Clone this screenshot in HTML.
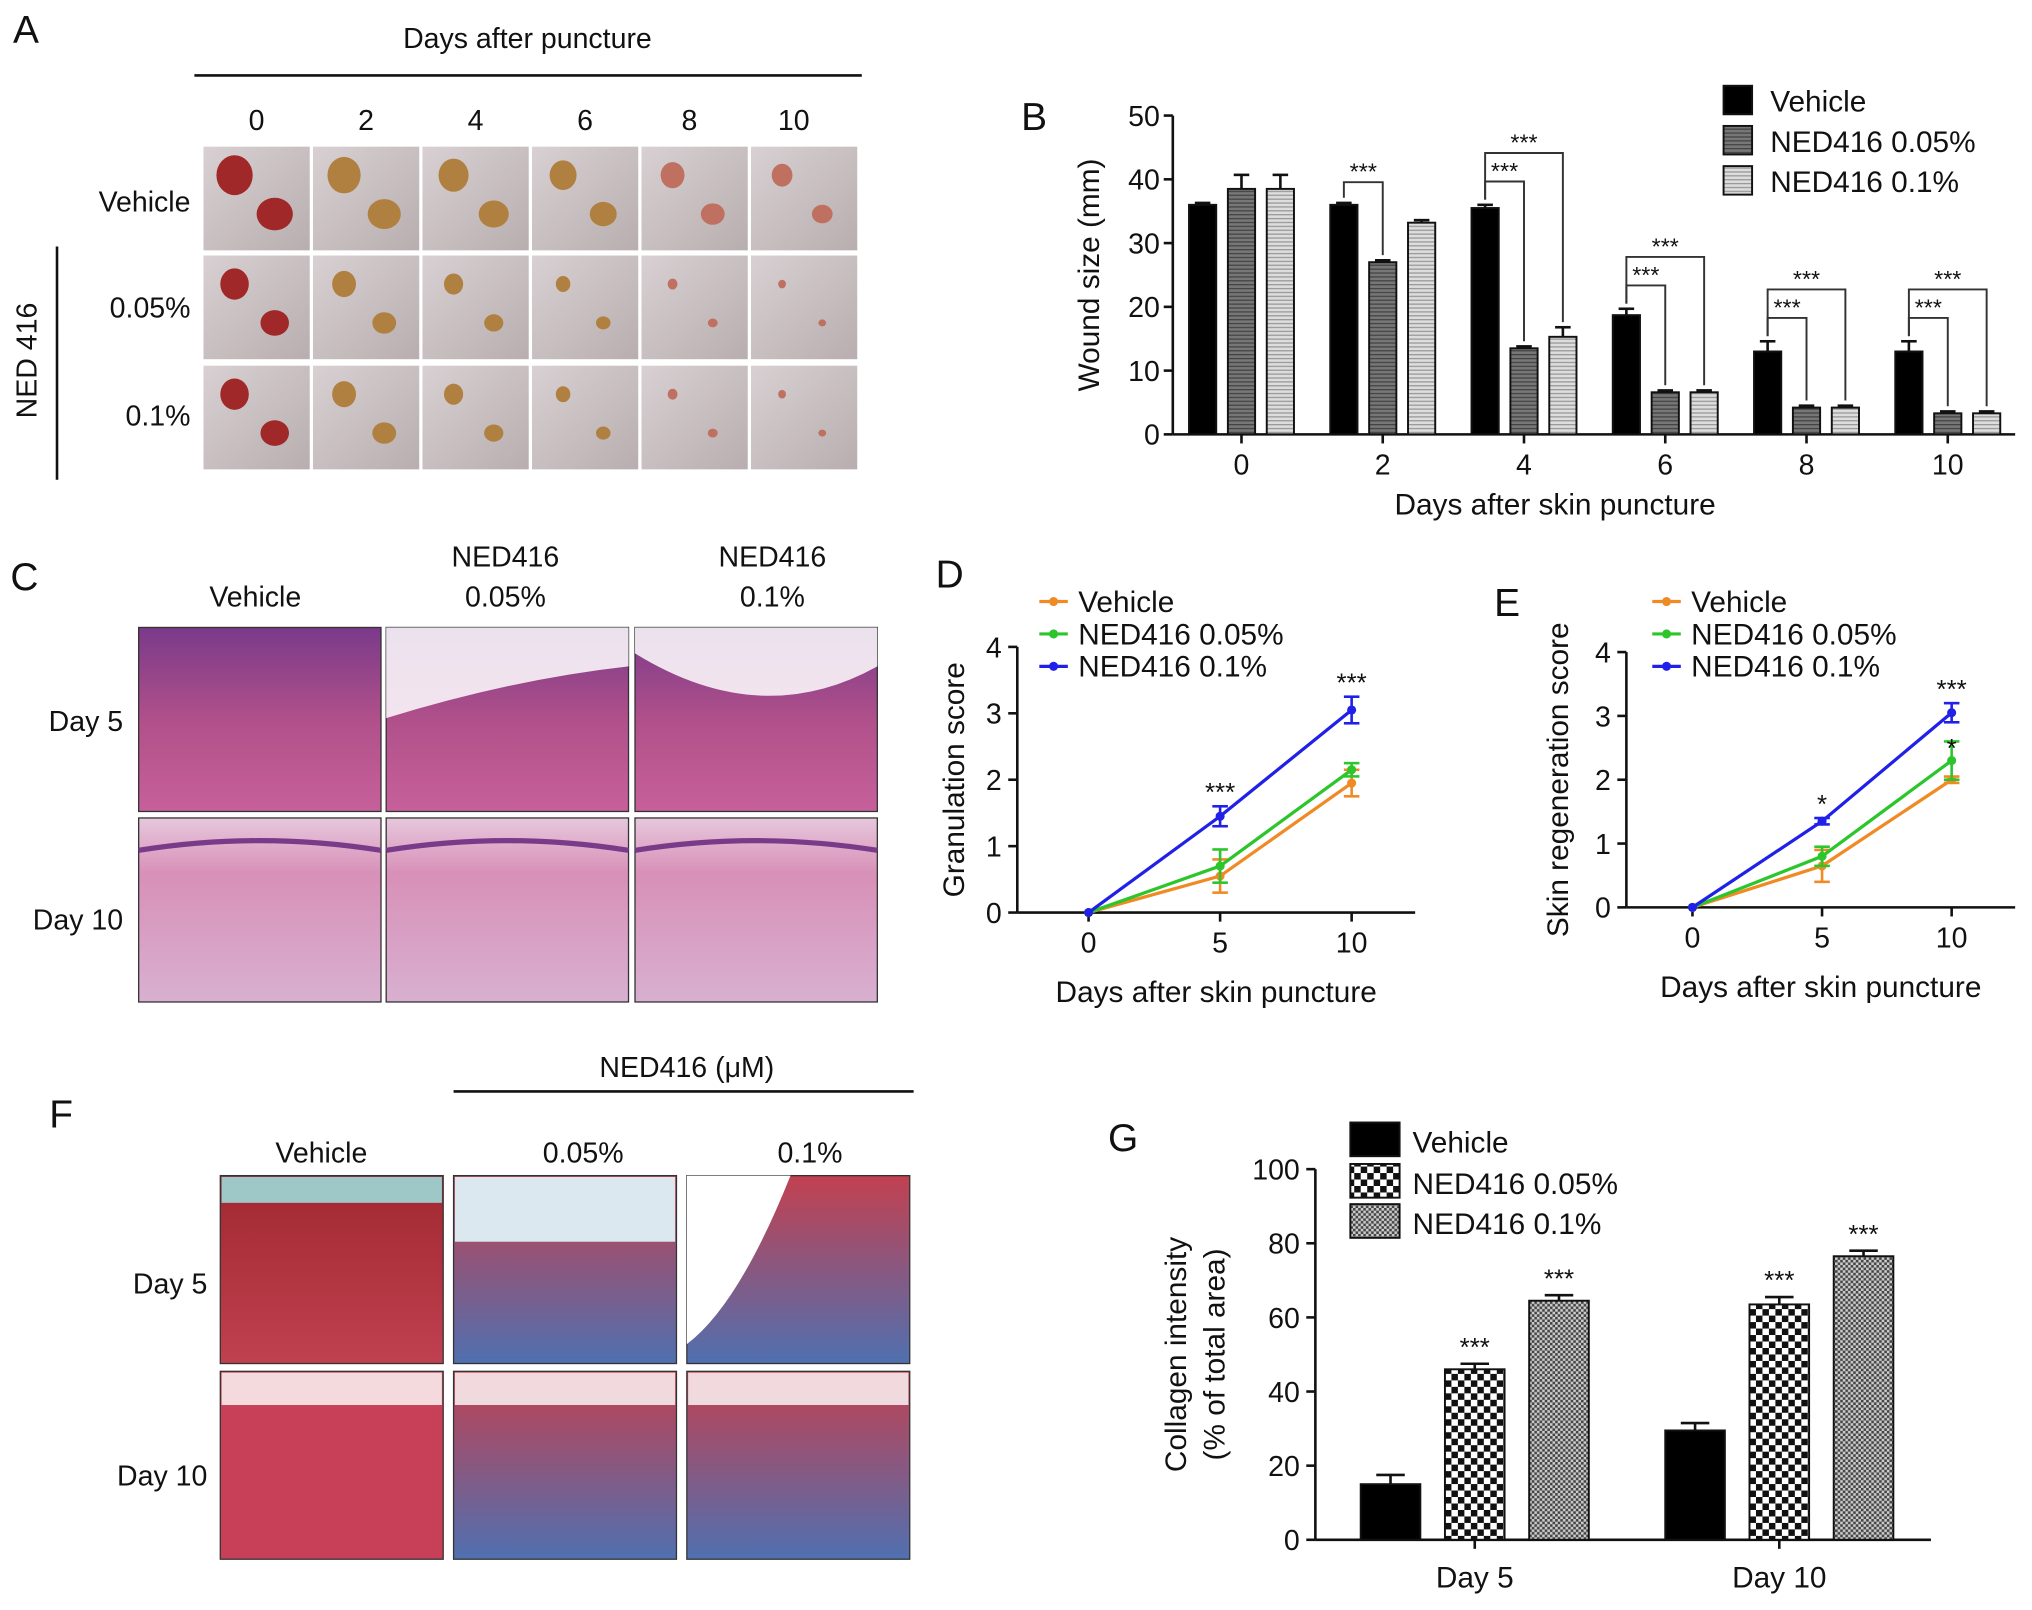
<!DOCTYPE html>
<html><head><meta charset="utf-8"><style>html,body{margin:0;padding:0;background:#fff}svg{display:block}text{font-family:"Liberation Sans",sans-serif;fill:#111}</style></head>
<body>
<svg id="fig" width="2032" height="1610" viewBox="0 0 1568 1242" xmlns="http://www.w3.org/2000/svg">
<defs>
<pattern id="pDark" width="4" height="3" patternUnits="userSpaceOnUse"><rect width="4" height="3" fill="#777"/><rect width="4" height="1" fill="#444"/></pattern>
<pattern id="pLight" width="4" height="3" patternUnits="userSpaceOnUse"><rect width="4" height="3" fill="#ddd"/><rect width="4" height="1" fill="#999"/></pattern>
<pattern id="pCheck" width="10" height="10" patternUnits="userSpaceOnUse"><rect width="10" height="10" fill="#fff"/><rect width="5" height="5" fill="#111"/><rect x="5" y="5" width="5" height="5" fill="#111"/></pattern>
<pattern id="pFine" width="4" height="4" patternUnits="userSpaceOnUse"><rect width="4" height="4" fill="#ccc"/><rect width="2" height="2" fill="#444"/><rect x="2" y="2" width="2" height="2" fill="#444"/></pattern>
<linearGradient id="gSkin" x1="0" y1="0" x2="1" y2="1"><stop offset="0" stop-color="#d8d0d2"/><stop offset="1" stop-color="#b8aeb0"/></linearGradient>
<linearGradient id="gHE" x1="0" y1="0" x2="0" y2="1"><stop offset="0" stop-color="#7a3a8a"/><stop offset="0.5" stop-color="#b0508a"/><stop offset="1" stop-color="#c7609a"/></linearGradient>
<linearGradient id="gHE2" x1="0" y1="0" x2="0" y2="1"><stop offset="0" stop-color="#e6c8dc"/><stop offset="0.3" stop-color="#d890b8"/><stop offset="1" stop-color="#d8b0d0"/></linearGradient>
<linearGradient id="gTri" x1="0" y1="0" x2="0" y2="1"><stop offset="0" stop-color="#c24050"/><stop offset="1" stop-color="#5070b0"/></linearGradient>
<linearGradient id="gRed" x1="0" y1="0" x2="0" y2="1"><stop offset="0" stop-color="#a02830"/><stop offset="1" stop-color="#c04050"/></linearGradient>
</defs>

<!-- Panel A -->
<g>
<text x="10" y="33" font-size="30">A</text>
<text x="407" y="37" font-size="22" text-anchor="middle">Days after puncture</text>
<line x1="150" y1="58" x2="665" y2="58" stroke="#111" stroke-width="2"/>
<g id="aGrid"></g>
<text x="147" y="163" font-size="22" text-anchor="end">Vehicle</text>
<text x="147" y="245" font-size="22" text-anchor="end">0.05%</text>
<text x="147" y="328" font-size="22" text-anchor="end">0.1%</text>
<line x1="44" y1="190" x2="44" y2="370" stroke="#111" stroke-width="2"/>
<text transform="translate(28,278) rotate(-90)" font-size="22" text-anchor="middle">NED 416</text>
</g>

<!-- Panel C -->
<g>
<text x="8" y="455" font-size="30">C</text>
<text x="197" y="468" font-size="22" text-anchor="middle">Vehicle</text>
<text x="390" y="437" font-size="22" text-anchor="middle">NED416</text>
<text x="390" y="468" font-size="22" text-anchor="middle">0.05%</text>
<text x="596" y="437" font-size="22" text-anchor="middle">NED416</text>
<text x="596" y="468" font-size="22" text-anchor="middle">0.1%</text>
<text x="95" y="564" font-size="22" text-anchor="end">Day 5</text>
<text x="95" y="717" font-size="22" text-anchor="end">Day 10</text>
<g id="cGrid"></g>
</g>

<!-- Panel F -->
<g>
<text x="38" y="870" font-size="30">F</text>
<text x="530" y="831" font-size="22" text-anchor="middle">NED416 (μM)</text>
<line x1="350" y1="842" x2="705" y2="842" stroke="#111" stroke-width="2"/>
<text x="248" y="897" font-size="22" text-anchor="middle">Vehicle</text>
<text x="450" y="897" font-size="22" text-anchor="middle">0.05%</text>
<text x="625" y="897" font-size="22" text-anchor="middle">0.1%</text>
<text x="160" y="998" font-size="22" text-anchor="end">Day 5</text>
<text x="160" y="1146" font-size="22" text-anchor="end">Day 10</text>
<g id="fGrid"></g>
</g>

<g id="chartB"><text x="788" y="100" font-size="30">B</text></g>
<g id="chartD"><text x="722" y="453" font-size="30">D</text></g>
<g id="chartE"><text x="1153" y="475" font-size="30">E</text></g>
<g id="chartG"><text x="855" y="888" font-size="30">G</text></g>
</svg>
<script>
// ---------- Data ----------
const bDays = ['0','2','4','6','8','10'];
const bSeries = ['Vehicle','NED416 0.05%','NED416 0.1%'];
const bVehicle = [36, 36, 35.5, 18.7, 13, 13];
const bLow = [38.5, 27, 13.5, 6.6, 4.2, 3.3];
const bHigh = [38.5, 33.2, 15.3, 6.6, 4.2, 3.3];
const bVehicleErr = [0.3, 0.3, 0.5, 1, 1.6, 1.6];
const bLowErr = [2.2, 0.3, 0.3, 0.3, 0.3, 0.3];
const bHighErr = [2.2, 0.4, 1.5, 0.3, 0.3, 0.3];
const bTicks = [0,10,20,30,40,50];

const lineDays = [0, 5, 10];
const lineSeries = ['Vehicle','NED416 0.05%','NED416 0.1%'];
const dVehicle = [0, 0.55, 1.95];
const dLow = [0, 0.7, 2.15];
const dHigh = [0, 1.45, 3.05];
const dVehicleErr = [0, 0.25, 0.2];
const dLowErr = [0, 0.25, 0.1];
const dHighErr = [0, 0.15, 0.2];
const eVehicle = [0, 0.65, 2.0];
const eLow = [0, 0.8, 2.3];
const eHigh = [0, 1.35, 3.05];
const eVehicleErr = [0, 0.25, 0.05];
const eLowErr = [0, 0.15, 0.3];
const eHighErr = [0, 0.05, 0.15];
const lineTicks = [0,1,2,3,4];

const gDays = ['Day 5','Day 10'];
const gVehicle = [15, 29.5];
const gLow = [46, 63.5];
const gHigh = [64.5, 76.5];
const gVehicleErr = [2.5, 2];
const gLowErr = [1.5, 2];
const gHighErr = [1.5, 1.5];
const gTicks = [0,20,40,60,80,100];

const NS='http://www.w3.org/2000/svg';
function mk(parent, tag, attrs, txt){const e=document.createElementNS(NS,tag);for(const k in attrs)e.setAttribute(k,attrs[k]);if(txt!==undefined)e.textContent=txt;parent.appendChild(e);return e;}

// ---------- Photo grids ----------
const aG=document.getElementById('aGrid');
const aRows=[113,197,282];
for(let r=0;r<3;r++)for(let c=0;c<6;c++){
  const x=157+c*84.5, y=aRows[r];
  const ph=mk(aG,'rect',{x:x,y:y,width:82,height:80,fill:'url(#gSkin)'});
  
  
  const sz=Math.max(3,(r===0?14:11)-c*(r===0?1.2:1.8));
  const col=c<1?'#a02828':(c<4?'#b08040':'#c07060');
  mk(aG,'ellipse',{cx:x+24,cy:y+22,rx:sz,ry:sz*1.1,fill:col});
  mk(aG,'ellipse',{cx:x+55,cy:y+52,rx:sz,ry:sz*0.9,fill:col});
}
['0','2','4','6','8','10'].forEach((d,i)=>{const t=mk(aG,'text',{x:198+i*84.5-(i>3?(i-3)*4:0),y:100,'font-size':22,'text-anchor':'middle'},d);});

const cG=document.getElementById('cGrid');
const cX=[107,298,490], cY=[484,631];
for(let r=0;r<2;r++)for(let c=0;c<3;c++){
  const p=mk(cG,'rect',{x:cX[c],y:cY[r],width:187,height:142,fill:r===0?'url(#gHE)':'url(#gHE2)',stroke:'#333','stroke-width':1});
  
  
  if(r===0&&c>0)mk(cG,'path',{d:`M${cX[c]} ${cY[r]} h187 v30 q-90 ${c===2?50:10} -187 ${c===2?-10:40}z`,fill:'#fff',opacity:0.85});
  if(r===1)mk(cG,'path',{d:`M${cX[c]} ${cY[r]+25} q93 -15 187 0`,stroke:'#7a3a8a','stroke-width':4,fill:'none'});
}
const fG=document.getElementById('fGrid');
const fX=[170,350,530], fY=[907,1058];
const fFill=[['url(#gRed)','url(#gTri)','url(#gTri)'],['#c84058','url(#gTri)','url(#gTri)']];
for(let r=0;r<2;r++)for(let c=0;c<3;c++){
  const p=mk(fG,'rect',{x:fX[c],y:fY[r],width:172,height:145,fill:fFill[r][c],stroke:'#333','stroke-width':1});
  
  
  if(r===0&&c===0)mk(fG,'rect',{x:fX[c]+1,y:fY[r]+1,width:170,height:20,fill:'#9ec8c8'});
  if(r===0&&c===2)mk(fG,'path',{d:`M${fX[c]} ${fY[r]} h80 q-40 100 -80 130z`,fill:'#fff'});
  if(r===0&&c===1)mk(fG,'rect',{x:fX[c]+1,y:fY[r]+1,width:170,height:50,fill:'#dce8f0'});
  if(r===1)mk(fG,'rect',{x:fX[c]+1,y:fY[r]+1,width:170,height:25,fill:'#fff',opacity:0.8});
}

// ---------- Error bar helper ----------
function errBar(g,x,yTop,yErr,w){
  mk(g,'line',{x1:x,y1:yTop,x2:x,y2:yErr,stroke:'#111','stroke-width':2});
  mk(g,'line',{x1:x-w,y1:yErr,x2:x+w,y2:yErr,stroke:'#111','stroke-width':2});
}

// ---------- Chart B ----------
(function(){
  const g=document.getElementById('chartB');
  const x0=905, x1=1555, yB=335, yT=89, vmax=50;
  const y=v=>yB-(v/vmax)*(yB-yT);
  const centers=[958,1068,1177,1284,1393,1503];
  const xc=i=>centers[0]+i*(centers[5]-centers[0])/(bDays.length-1);
  mk(g,'line',{x1:x0,y1:yT,x2:x0,y2:yB,stroke:'#111','stroke-width':2});
  mk(g,'line',{x1:x0,y1:yB,x2:x1,y2:yB,stroke:'#111','stroke-width':2});
  bTicks.forEach(t=>{mk(g,'line',{x1:x0-7,y1:y(t),x2:x0,y2:y(t),stroke:'#111','stroke-width':2});const tl=mk(g,'text',{x:x0-10,y:y(t)+8,'font-size':22,'text-anchor':'end'},t);});
  bDays.forEach((d,i)=>{mk(g,'line',{x1:xc(i),y1:yB,x2:xc(i),y2:yB+7,stroke:'#111','stroke-width':2});const tl=mk(g,'text',{x:xc(i),y:yB+31,'font-size':22,'text-anchor':'middle'},d);});
  const xt=mk(g,'text',{x:1200,y:397,'font-size':23,'text-anchor':'middle'},'Days after skin puncture');
  const yt=mk(g,'text',{transform:'translate(848,212) rotate(-90)','font-size':23,'text-anchor':'middle'},'Wound size (mm)');
  const sets=[[bVehicle,bVehicleErr,'#000'],[bLow,bLowErr,'url(#pDark)'],[bHigh,bHighErr,'url(#pLight)']];
  const bw=21;
  bDays.forEach((d,i)=>{
    sets.forEach((s,k)=>{
      const cx=xc(i)+(k-1)*30, v=s[0][i];
      errBar(g,cx,y(v),y(v+s[1][i]),6);
      const r=mk(g,'rect',{x:cx-bw/2,y:y(v),width:bw,height:yB-y(v),fill:s[2],stroke:'#111','stroke-width':1.5});
      
      
    });
    if(i>=1){
      const cv=xc(i)-30, top=y(bVehicle[i]+bVehicleErr[i])-4;
      const brk=(k,lvl)=>{const cx=xc(i)+(k-1)*30;const tv=y(sets[k][0][i]+sets[k][1][i])-4;
        mk(g,'polyline',{points:`${cv},${top} ${cv},${lvl} ${cx},${lvl} ${cx},${tv}`,fill:'none',stroke:'#333','stroke-width':1.5});
        mk(g,'text',{x:(cv+cx)/2,y:lvl-2,'font-size':18,'text-anchor':'middle'},'***');};
      if(i===1){brk(1,top-12);} else {brk(1,top-14);brk(2,top-36);}
    }
  });
  const lg=[[1330,66,'#000','Vehicle'],[1330,97,'url(#pDark)','NED416 0.05%'],[1330,128,'url(#pLight)','NED416 0.1%']];
  lg.forEach(l=>{mk(g,'rect',{x:l[0],y:l[1],width:22,height:22,fill:l[2],stroke:'#111','stroke-width':1.5});const t=mk(g,'text',{x:l[0]+36,y:l[1]+20,'font-size':23},l[3]);});
})();

// ---------- Line charts ----------
function lineChart(id,ax,yB,yT,xs,xEnd,series,errs,title,xTitleY,yTitleX,legY,legX){
  const g=document.getElementById(id);
  const vmax=4;
  const y=v=>yB-(v/vmax)*(yB-yT);
  const x=d=>xs[0]+(d/10)*(xs[1]-xs[0]);
  mk(g,'line',{x1:ax,y1:yT,x2:ax,y2:yB,stroke:'#111','stroke-width':2});
  mk(g,'line',{x1:ax,y1:yB,x2:xEnd,y2:yB,stroke:'#111','stroke-width':2});
  lineTicks.forEach(t=>{mk(g,'line',{x1:ax-7,y1:y(t),x2:ax,y2:y(t),stroke:'#111','stroke-width':2});mk(g,'text',{x:ax-12,y:y(t)+8,'font-size':22,'text-anchor':'end'},t);});
  lineDays.forEach(d=>{mk(g,'line',{x1:x(d),y1:yB,x2:x(d),y2:yB+7,stroke:'#111','stroke-width':2});mk(g,'text',{x:x(d),y:yB+31,'font-size':22,'text-anchor':'middle'},d);});
  const xt=mk(g,'text',{x:(ax+xEnd)/2,y:xTitleY,'font-size':23,'text-anchor':'middle'},'Days after skin puncture');
  const yt=mk(g,'text',{transform:`translate(${yTitleX},${(yB+yT)/2}) rotate(-90)`,'font-size':23,'text-anchor':'middle'},title);
  const cols=['#f08a24','#2cc62c','#2020e8'];
  series.forEach((s,k)=>{
    const pts=lineDays.map((d,i)=>x(d)+','+y(s[i])).join(' ');
    const pl=mk(g,'polyline',{points:pts,fill:'none',stroke:cols[k],'stroke-width':2.5});
    
    
    lineDays.forEach((d,i)=>{
      const e=errs[k][i];
      if(e>0){mk(g,'line',{x1:x(d),y1:y(s[i]-e),x2:x(d),y2:y(s[i]+e),stroke:cols[k],'stroke-width':2});
        [s[i]-e,s[i]+e].forEach(v=>mk(g,'line',{x1:x(d)-6,y1:y(v),x2:x(d)+6,y2:y(v),stroke:cols[k],'stroke-width':2}));}
      const m=mk(g,'circle',{cx:x(d),cy:y(s[i]),r:3.5,fill:cols[k]});
      
      
    });
  });
  series.forEach((s,k)=>{
    const ly=legY+k*25;
    mk(g,'line',{x1:legX,y1:ly,x2:legX+22,y2:ly,stroke:cols[k],'stroke-width':2.5});
    mk(g,'circle',{cx:legX+11,cy:ly,r:3.5,fill:cols[k]});
    const t=mk(g,'text',{x:legX+30,y:ly+8,'font-size':23},lineSeries[k]);
  });
  return {g,x,y};
}
const D=lineChart('chartD',785,704,499,[840,1043],1092,[dVehicle,dLow,dHigh],[dVehicleErr,dLowErr,dHighErr],'Granulation score',773,744,464,802);
[[5,dHigh,dHighErr],[10,dHigh,dHighErr]].forEach(a=>{const i=lineDays.indexOf(a[0]);mk(D.g,'text',{x:D.x(a[0]),y:D.y(a[1][i]+a[2][i])-4,'font-size':20,'text-anchor':'middle'},'***');});
const E=lineChart('chartE',1255,700,503,[1306,1506],1555,[eVehicle,eLow,eHigh],[eVehicleErr,eLowErr,eHighErr],'Skin regeneration score',769,1210,464,1275);
mk(E.g,'text',{x:E.x(5),y:E.y(eHigh[1]+eHighErr[1])-4,'font-size':20,'text-anchor':'middle'},'*');
mk(E.g,'text',{x:E.x(10),y:E.y(eHigh[2]+eHighErr[2])-4,'font-size':20,'text-anchor':'middle'},'***');
mk(E.g,'text',{x:E.x(10),y:E.y(eLow[2]+eLowErr[2])+12,'font-size':20,'text-anchor':'middle',fill:'#666'},'*');

// ---------- Chart G ----------
(function(){
  const g=document.getElementById('chartG');
  const ax=1015, yB=1188, yT=902, x1=1490;
  const y=v=>yB-(v/100)*(yB-yT);
  const centers=[1138,1373];
  mk(g,'line',{x1:ax,y1:yT,x2:ax,y2:yB,stroke:'#111','stroke-width':2});
  mk(g,'line',{x1:ax,y1:yB,x2:x1,y2:yB,stroke:'#111','stroke-width':2});
  gTicks.forEach(t=>{mk(g,'line',{x1:ax-7,y1:y(t),x2:ax,y2:y(t),stroke:'#111','stroke-width':2});mk(g,'text',{x:ax-12,y:y(t)+8,'font-size':22,'text-anchor':'end'},t);});
  gDays.forEach((d,i)=>{mk(g,'line',{x1:centers[i],y1:yB,x2:centers[i],y2:yB+7,stroke:'#111','stroke-width':2});const t=mk(g,'text',{x:centers[i],y:yB+37,'font-size':23,'text-anchor':'middle'},d);});
  const yt=mk(g,'text',{transform:'translate(915,1045) rotate(-90)','font-size':23,'text-anchor':'middle'},'Collagen intensity');
  mk(g,'text',{transform:'translate(945,1045) rotate(-90)','font-size':23,'text-anchor':'middle'},'(% of total area)');
  const sets=[[gVehicle,gVehicleErr,'#000'],[gLow,gLowErr,'url(#pCheck)'],[gHigh,gHighErr,'url(#pFine)']];
  gDays.forEach((d,i)=>{
    sets.forEach((s,k)=>{
      const cx=centers[i]+(k-1)*65, v=s[0][i];
      errBar(g,cx,y(v),y(v+s[1][i]),11);
      const r=mk(g,'rect',{x:cx-23,y:y(v),width:46,height:yB-y(v),fill:s[2],stroke:'#111','stroke-width':1.5});
      
      
      if(k>0)mk(g,'text',{x:cx,y:y(v+s[1][i])-6,'font-size':20,'text-anchor':'middle'},'***');
    });
  });
  const lg=[[1042,866,'#000','Vehicle'],[1042,898,'url(#pCheck)','NED416 0.05%'],[1042,929,'url(#pFine)','NED416 0.1%']];
  lg.forEach(l=>{mk(g,'rect',{x:l[0],y:l[1],width:38,height:26,fill:l[2],stroke:'#111','stroke-width':1.5});const t=mk(g,'text',{x:l[0]+48,y:l[1]+23,'font-size':23},l[3]);});
})();
</script>
</body></html>
